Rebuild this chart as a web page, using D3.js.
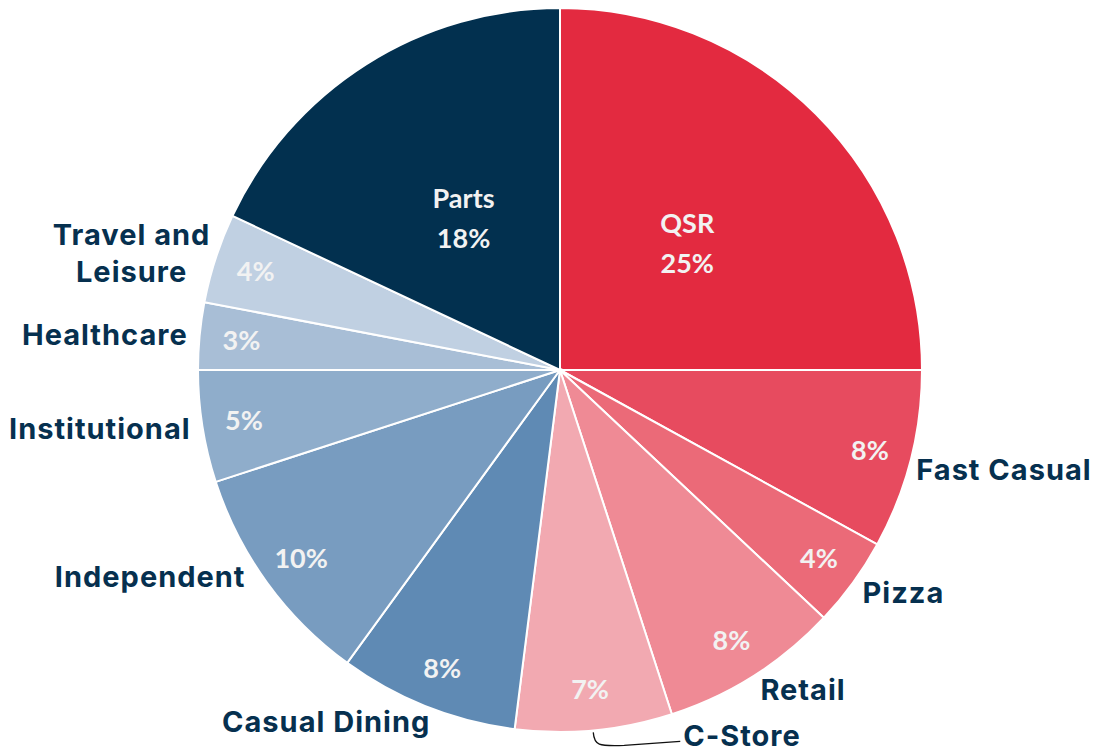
<meta charset="utf-8">
<script src="https://cdn.jsdelivr.net/npm/d3@7"></script>
<style>
  body { margin: 0; background: #fff; }
</style>
<div id="pie_chart"></div>
<script>
// Dati del grafico
var categories = ["QSR", "Fast Casual", "Pizza", "Retail", "C-Store", "Casual Dining",
  "Independent", "Institutional", "Healthcare", "Travel and Leisure", "Parts"]
var shares = [25, 8, 4, 8, 7, 8, 10, 5, 3, 4, 18]
var colors = ["#e32a40", "#e74b5f", "#eb6a78", "#ef8a95", "#f2a9b1", "#5f8ab4",
  "#789cc0", "#8fadcb", "#a8bed6", "#c0d0e2", "#02304f"]

var width = 1104, height = 754
var radius = 362
var cx = 560, cy = 370

var data = categories.map(function(c, i) {
  return { name: c, value: shares[i], color: colors[i] }
})

var svg = d3.select("#pie_chart")
  .append("svg")
  .attr("width", width)
  .attr("height", height)

var g = svg.append("g")
  .attr("transform", "translate(" + cx + "," + cy + ")")

var pie = d3.pie().value(function(d) { return d.value }).sort(null)
var arcs = pie(data)

var arc = d3.arc().innerRadius(0).outerRadius(radius)

// spicchi
g.selectAll("path.slice")
  .data(arcs)
  .enter()
  .append("path")
  .attr("class", "slice")
  .attr("d", arc)
  .attr("fill", function(d) { return d.data.color })
  .attr("stroke", "white")
  .style("stroke-width", "2px")

function pos(a, r) {
  return [Math.sin(a) * r, -Math.cos(a) * r]
}
function mid(d) { return (d.startAngle + d.endAngle) / 2 }

// le fette grandi hanno nome + percentuale all'interno
var big = function(d) { return d.data.value >= 15 }

g.selectAll("text.pct")
  .data(arcs)
  .enter()
  .append("text")
  .attr("class", "pct")
  .attr("text-anchor", "middle")
  .style("font-family", "Lato, 'Open Sans', sans-serif")
  .style("font-weight", "bold")
  .style("font-size", "27px")
  .attr("fill", "#f2f2f2")
  .each(function(d) {
    var p = pos(mid(d), big(d) ? 180 : 320)
    var t = d3.select(this)
    if (big(d)) {
      t.append("tspan").attr("x", p[0]).attr("y", p[1] - 10).text(d.data.name)
      t.append("tspan").attr("x", p[0]).attr("y", p[1] + 30).text(d.data.value + "%")
    } else {
      t.attr("x", p[0]).attr("y", p[1] + 10).text(d.data.value + "%")
    }
  })

// piccoli spostamenti delle etichette come nell'originale
var nudge = {
  "Fast Casual": [-6, 7],
  "Pizza": [0, 3],
  "Retail": [0, 4],
  "Casual Dining": [8, 4],
  "Independent": [-12, -13],
  "Travel and Leisure": [6, 0],
  "C-Store": [88, -6]
}

// etichette esterne
g.selectAll("text.name")
  .data(arcs.filter(function(d) { return !big(d) }))
  .enter()
  .append("text")
  .attr("class", "name")
  .style("font-family", "Inter, sans-serif")
  .style("font-weight", "bold")
  .style("font-size", "29px")
  .style("letter-spacing", "1px")
  .attr("fill", "#06304f")
  .each(function(d) {
    var a = mid(d)
    var right = a < Math.PI
    var p = pos(a, 374)
    var n = nudge[d.data.name] || [0, 0]
    p = [p[0] + n[0], p[1] + n[1]]
    var t = d3.select(this)
    var words = d.data.name === "Travel and Leisure" ? ["Travel and", "Leisure"] : [d.data.name]
    if (words.length > 1) {
      t.attr("text-anchor", "middle")
      words.forEach(function(w, i) {
        t.append("tspan").attr("x", 0).attr("y", p[1] + 9 + (i - 0.5) * 37).text(w)
      })
      var bb = this.getBBox()
      t.selectAll("tspan").attr("x", p[0] - bb.width / 2)
    } else {
      t.attr("text-anchor", right ? "start" : "end")
        .attr("x", p[0]).attr("y", p[1] + 10).text(words[0])
    }
  })

// linea guida per C-Store
var cs = arcs[categories.indexOf("C-Store")]
var s = pos(mid(cs), radius + 2)
g.append("path")
  .attr("d", "M" + (s[0] - 1) + "," + s[1] +
    " C" + (s[0]) + "," + (s[1] + 13) + " " + (s[0] + 4) + "," + (s[1] + 14) + " " + (s[0] + 30) + "," + (s[1] + 13) +
    " L" + (s[0] + 86) + "," + (s[1] + 9))
  .attr("fill", "none")
  .attr("stroke", "#111")
  .attr("stroke-width", 1.3)
</script>
